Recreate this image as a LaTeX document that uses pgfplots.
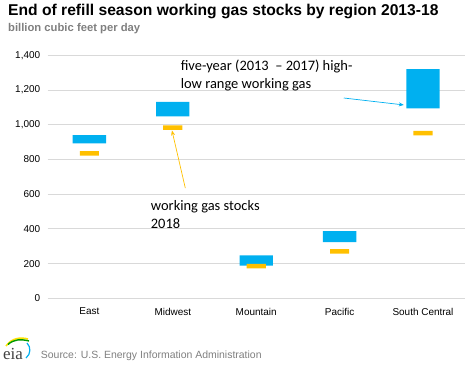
\documentclass[border=0pt]{standalone}
\usepackage{pgfplots}
\pgfplotsset{compat=1.18}
\usetikzlibrary{arrows.meta}
\usepackage{fontspec}
\setmainfont{Liberation Sans}
\newfontfamily\carlito{Carlito}
\newfontfamily\serifl{Liberation Serif}
\definecolor{eiablue}{HTML}{00B0F0}
\definecolor{eiaorange}{HTML}{FFC000}
\definecolor{gridgray}{HTML}{D9D9D9}
\definecolor{subgray}{HTML}{7F7F7F}
\begin{document}
\begin{tikzpicture}
\path[use as bounding box] (0,0) rectangle (468bp,-366bp);
\node[anchor=base west, inner sep=0pt, font=\bfseries\fontsize{15.7}{18}\selectfont] at (8bp,-15bp) {End of refill season working gas stocks by region 2013-18};
\node[anchor=base west, inner sep=0pt, font=\bfseries\fontsize{11.3}{13}\selectfont, text=subgray] at (8bp,-31bp) {billion cubic feet per day};
\begin{axis}[
  at={(47.7bp,-298.3bp)}, anchor=south west,
  scale only axis, width=417bp, height=243bp,
  xmin=-0.5, xmax=4.5, ymin=0, ymax=1400,
  ybar stacked, bar width=0.4,
  axis line style={draw=none}, tick style={draw=none},
  ymajorgrids, grid style={gridgray, line width=0.8pt},
  ytick={0,200,...,1400},
  xtick={0,1,2,3,4},
  xticklabels={East,Midwest,Mountain,Pacific,South Central},
  /pgf/number format/.cd, 1000 sep={,}, assume math mode=true,
  /pgfplots/.cd,
  ticklabel style={font=\fontsize{10}{12}\selectfont},
  yticklabel style={xshift=-4bp},
  xticklabel style={yshift=-6bp},
  clip=false,
]
\addplot[draw=none, fill=none] coordinates {(0,892) (1,1048) (2,188) (3,323) (4,1094)};
\addplot[draw=none, fill=eiablue] coordinates {(0,48) (1,83) (2,60) (3,64) (4,227)};
\draw[eiablue, line width=0.7pt, -{Stealth[length=5bp,width=4bp]}] (axis cs:3.05,1154) -- (axis cs:3.77,1114);
\draw[eiaorange, line width=0.7pt, -{Stealth[length=5bp,width=4bp]}] (axis cs:1.15,635) -- (axis cs:0.99,967);
\node[anchor=base west, inner sep=0pt, font=\carlito\fontsize{14.5}{17}\selectfont] at (axis cs:1.094,1311) {five-year\ (2013\ \ – 2017)\ high-};
\node[anchor=base west, inner sep=0pt, font=\carlito\fontsize{14.5}{17}\selectfont] at (axis cs:1.094,1211) {low\ range\ working\ gas};
\node[anchor=base west, inner sep=0pt, font=\carlito\fontsize{14.5}{17}\selectfont] at (axis cs:0.735,505) {working gas stocks};
\node[anchor=base west, inner sep=0pt, font=\carlito\fontsize{14.5}{17}\selectfont] at (axis cs:0.735,400) {2018};
\end{axis}
\begin{axis}[
  at={(47.7bp,-298.3bp)}, anchor=south west,
  scale only axis, width=417bp, height=243bp,
  xmin=-0.5, xmax=4.5, ymin=0, ymax=1400,
  ybar stacked, bar width=0.23,
  hide axis,
]
\addplot[draw=none, fill=none] coordinates {(0,822) (1,971) (2,172) (3,257) (4,939)};
\addplot[draw=none, fill=eiaorange] coordinates {(0,26) (1,26) (2,26) (3,26) (4,26)};
\end{axis}
% eia logo
\draw[line width=1.6pt, yellow!85!orange] (6bp,-346bp) .. controls (12bp,-338bp) and (20bp,-337bp) .. (28bp,-339bp);
\draw[line width=1.4pt, green!60!black] (8bp,-344.5bp) .. controls (14bp,-339bp) and (21bp,-339bp) .. (29bp,-341bp);
\draw[line width=1.2pt, eiablue] (27bp,-343bp) .. controls (31bp,-347bp) and (31bp,-354bp) .. (26bp,-358bp);
\node[anchor=base west, inner sep=0pt, font=\serifl\fontsize{17}{18}\selectfont, text=black!75] at (3bp,-359bp) {eia};
\node[anchor=base west, inner sep=0pt, font=\fontsize{10.5}{12}\selectfont, text=subgray] at (40.7bp,-358bp) {Source: U.S. Energy Information Administration};
\end{tikzpicture}
\end{document}
